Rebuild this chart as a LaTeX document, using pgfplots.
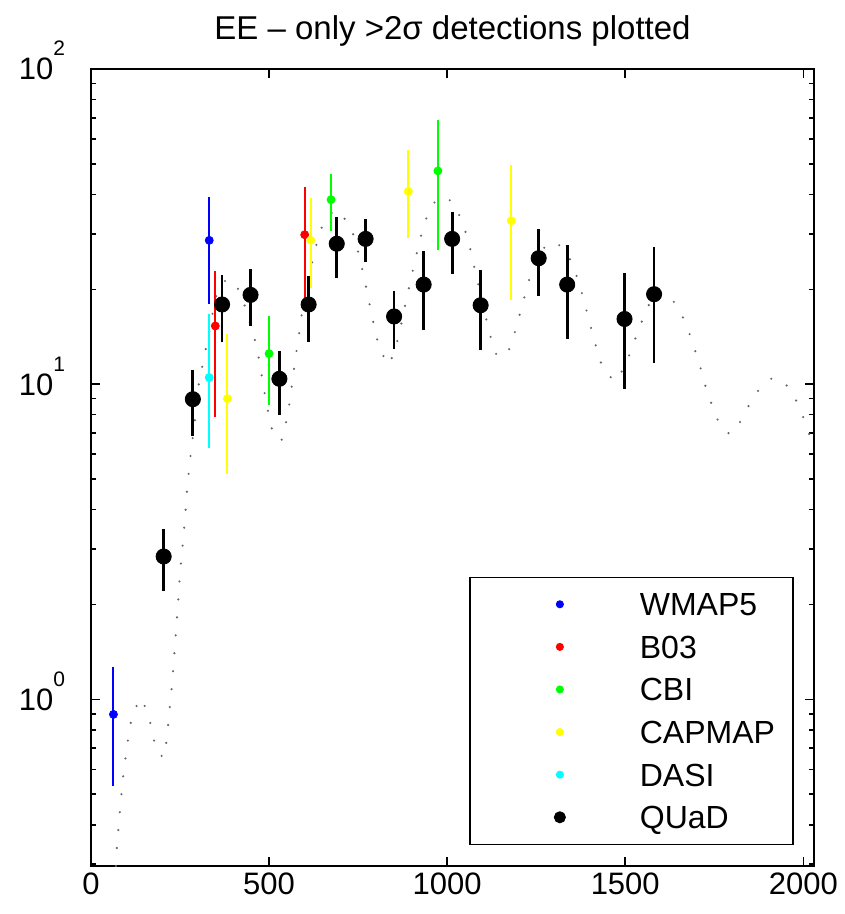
\documentclass[border=0pt]{standalone}
\usepackage{fontspec}
\setmainfont{Liberation Sans}
\usepackage{pgfplots}
\pgfplotsset{compat=1.18}

\definecolor{mblue}{RGB}{0,0,255}
\definecolor{mred}{RGB}{255,0,0}
\definecolor{mgreen}{RGB}{0,255,0}
\definecolor{myellow}{RGB}{255,255,0}
\definecolor{mcyan}{RGB}{0,255,255}

% styles for the experiment points
\pgfplotsset{
  expt/.style={only marks, mark=*, mark size=2pt, color=#1,
    error bars/.cd, y dir=both, y explicit, error mark=none,
    error bar style={line width=1pt, color=#1},
    /pgfplots/.cd,
    legend image code/.code={\path[draw=none] (-36pt,0pt) (40pt,0pt);
      \draw[##1, line width=0.4pt, mark size=1.8pt] plot coordinates {(0pt,0pt)};}},
  quad/.style={only marks, mark=*, mark size=3.8pt, color=black,
    error bars/.cd, y dir=both, y explicit, error mark=none,
    error bar style={line width=1.4pt, color=black},
    /pgfplots/.cd,
    legend image code/.code={\path[draw=none] (-36pt,0pt) (40pt,0pt);
      \draw[##1, line width=0.4pt, mark size=2.8pt] plot coordinates {(0pt,0pt)};}},
}

\begin{document}
\begin{tikzpicture}
\begin{axis}[
    name=ax,
    scale only axis,
    width=361.5pt, height=398.5pt,
    xmin=0, xmax=2030,
    ymode=log, log basis y=10,
    ymin=0.296, ymax=100,
    xtick={0,500,1000,1500,2000},
    axis line style={line width=0.75pt},
    tick style={line width=0.75pt, black},
    major tick length=4.5pt, minor tick length=2.5pt,
    tick label style={font=\fontsize{15.5}{18}\selectfont},
    /pgf/number format/assume math mode=true,
    /pgf/number format/1000 sep={},
    yticklabel={\pgfmathtruncatemacro\ee{round(\tick)}10\raisebox{12pt}{\fontsize{10.5}{12}\selectfont\ee}},
    yticklabel style={anchor=base east, yshift=-5.5pt, xshift=-9.5pt},
    title={EE – only >2σ detections plotted},
    title style={font=\fontsize{16.5}{20}\selectfont, at={(0.5,1)}, anchor=base, yshift=8.5pt},
    legend cell align=left,
    legend style={at={(0.972,0.0263)}, anchor=south east, draw=black, line width=0.75pt,
      inner xsep=9pt, inner ysep=7.75pt, row sep=9.8pt,
      font=\fontsize{16}{19}\selectfont,
      nodes={inner sep=0pt, text height=11.5pt, text depth=0pt}},
]

% theory curve (dotted)
\addplot[black!60, line width=1.2pt, line cap=round, dash pattern=on 0pt off 9pt, forget plot] coordinates {
(70,0.296) (73,0.342) (82,0.454) (92,0.596) (107,0.789) (117,0.907) (141,1.01)
(162,0.89) (173,0.774) (185,0.679) (205,0.653) (213,0.75) (218,0.86) (223,0.99)
(228,1.13) (232,1.30) (236,1.5) (240,1.72) (243,1.91) (246.5,2.19) (250,2.52)
(255,2.89) (260,3.33) (264.5,3.83) (268,4.42) (273,5.06) (278.6,5.82) (285,6.7)
(291.5,7.68) (303,10.1) (314,11.6) (324.5,13.3) (340,16.5) (355,19.9) (380,21.5)
(407,20.8) (430,18) (459,14.0) (470,12.3) (479,10.7) (488,9.3) (498,8.1)
(509.6,7.07) (534,6.59) (542,7.07) (553,8.1) (561,9.3) (567.6,10.7) (575,12.3)
(583,14.1) (590,16.2) (605,20) (621,24.5) (634,28.0) (650,32.0) (683,35.8)
(720,32.9) (741,29.0) (753.6,25.3) (766,22.0) (777,19.2) (787,16.8) (798.6,14.65)
(811,12.8) (837,11.5) (855,13) (869,15.1) (880,17.4) (891.5,19.9) (903,22.8)
(915,26.1) (928,30.0) (944,34.3) (969,38.5) (990,39.2) (1014,38.0) (1039,33.5)
(1056,29.4) (1069,25.7) (1080,22.4) (1093,19.6) (1104,17.1) (1117,14.9) (1130,13.0)
(1140,12.3) (1155,12.2) (1173,12.8) (1190,14.6) (1204,16.7) (1218,19.1) (1232,21.8)
(1255,25.5) (1281,27.9) (1300,28.2) (1324.5,27.2) (1351,24.2) (1369,21.1) (1384,18.5)
(1397,16.1) (1411,14.1) (1425,12.3) (1439,11.1) (1471,10.2) (1500,11.4) (1518,13.0)
(1538,14.9) (1556,16.9) (1581,19.3) (1605,19.6) (1632,18.6) (1660,16.5) (1680,14.5)
(1697,12.7) (1713,11.1) (1727,9.7) (1738,8.94) (1755,7.85) (1784,7.02) (1800,6.95)
(1822,7.57) (1848,8.6) (1876,9.64) (1914,10.5) (1957,9.85) (1984,8.7) (2004,7.65)
(2021,6.7) (2035,6.0)
};

\addplot[expt=mblue] table[x=x, y=y, y error plus=ep, y error minus=em] {
x y ep em
63 0.896 0.373 0.364
332 28.6 10.8 10.6
};
\addlegendentry{WMAP5}

\addplot[expt=mred] table[x=x, y=y, y error plus=ep, y error minus=em] {
x y ep em
349 15.3 7.6 7.41
600 29.8 12.3 11.0
};
\addlegendentry{B03}

\addplot[expt=mgreen] table[x=x, y=y, y error plus=ep, y error minus=em] {
x y ep em
500 12.5 4.0 3.9
674 38.5 8.0 7.8
974 47.5 21.5 20.8
};
\addlegendentry{CBI}

\addplot[expt=myellow] table[x=x, y=y, y error plus=ep, y error minus=em] {
x y ep em
383 9.0 5.4 3.82
617 28.6 10.5 8.4
891 40.9 14.3 11.9
1180 33.0 16.7 14.5
};
\addlegendentry{CAPMAP}

\addplot[expt=mcyan] table[x=x, y=y, y error plus=ep, y error minus=em] {
x y ep em
332 10.5 6.2 4.24
};
\addlegendentry{DASI}

\addplot[quad] table[x=x, y=y, y error plus=ep, y error minus=em] {
x y ep em
204 2.84 0.63 0.63
286 8.96 2.14 2.11
368 17.9 4.3 4.25
448 19.2 4.0 3.9
529 10.4 2.3 2.4
611 17.9 4.1 4.25
690 27.9 5.9 6.1
771 28.9 4.5 4.5
851 16.4 3.4 3.5
934 20.7 5.8 5.8
1014 28.9 6.4 6.5
1094 17.8 5.2 5.0
1257 25.1 6.0 6.0
1337 20.7 6.9 6.8
1498 16.1 6.5 6.46
1581 19.3 8.0 7.6
};
\addlegendentry{QUaD}

\end{axis}
\path ([shift={(-45.5pt,-24pt)}]ax.south west) rectangle ([shift={(13.5pt,34.5pt)}]ax.north east);
\end{tikzpicture}
\end{document}
